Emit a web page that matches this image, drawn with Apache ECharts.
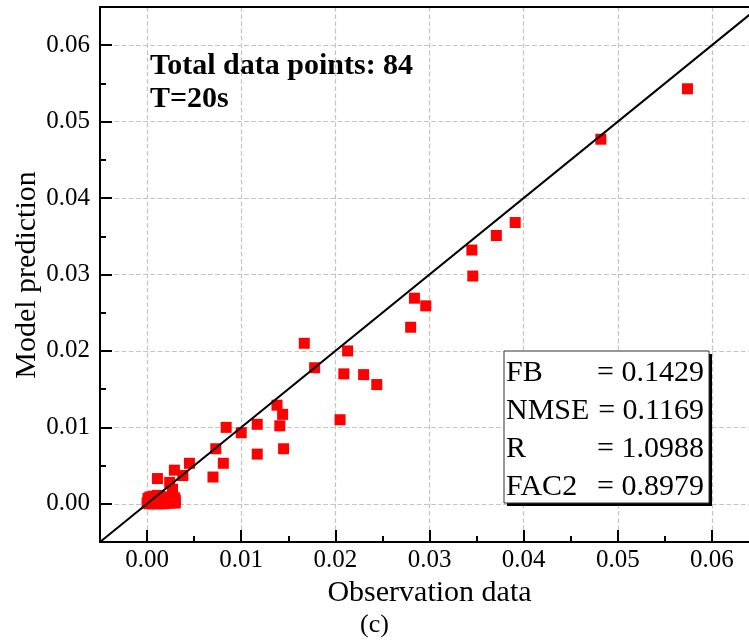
<!DOCTYPE html>
<html>
<head>
<meta charset="utf-8">
<script src="https://cdn.jsdelivr.net/npm/echarts/dist/echarts.min.js"></script>
<style>
html,body{margin:0;padding:0;background:#fff;}
#chart{width:749px;height:644px;}
</style>
</head>
<body>
<div id="chart"></div>
<script>
// Observation data (x) and model prediction (y), 84 points
const obsValues = [
  0.0574,0.0482,0.0391,0.0371,0.0345,0.0346,0.0284,0.0296,0.0280,0.0167,
  0.0213,0.0178,0.0209,0.0230,0.0244,0.0138,0.0144,0.0141,0.0205,0.0117,
  0.0084,0.0100,0.0117,0.0145,0.0073,0.0081,0.0070,0.0045,0.0038,0.0029,
  0.0011,0.0024,0.0027,0.0029,
  0.0000,0.0001,0.0002,0.0002,0.0003,0.0004,0.0004,0.0005,0.0006,0.0006,
  0.0007,0.0008,0.0008,0.0009,0.0010,0.0010,0.0011,0.0012,0.0012,0.0013,
  0.0014,0.0015,0.0015,0.0016,0.0017,0.0018,0.0018,0.0019,0.0020,0.0021,
  0.0022,0.0022,0.0023,0.0024,0.0025,0.0025,0.0026,0.0027,0.0028,0.0029,
  0.0030,0.0030,0.0001,0.0003,0.0005,0.0007,0.0009,0.0011,0.0013,0.0016
];
const predValues = [
  0.0543,0.0477,0.0368,0.0351,0.0332,0.0298,0.0269,0.0259,0.0231,0.0210,
  0.0200,0.0178,0.0170,0.0169,0.0156,0.0129,0.0117,0.0102,0.0110,0.0104,
  0.0100,0.0093,0.0065,0.0072,0.0072,0.0053,0.0035,0.0053,0.0037,0.0044,
  0.0033,0.0028,0.0019,0.0008,
  0.0001,0.0002,0.0000,0.0004,0.0001,0.0003,0.0006,0.0002,0.0000,0.0005,
  0.0003,0.0007,0.0001,0.0004,0.0002,0.0006,0.0000,0.0003,0.0008,0.0005,
  0.0001,0.0004,0.0007,0.0002,0.0005,0.0000,0.0003,0.0006,0.0002,0.0004,
  0.0001,0.0007,0.0003,0.0005,0.0001,0.0008,0.0004,0.0002,0.0006,0.0003,
  0.0005,0.0001,0.0007,0.0009,0.0008,0.0010,0.0009,0.0011,0.0010,0.0009
];
const lineX = [-0.005, 0.065];
const lineY = [-0.005, 0.065];
const axisRange = [-0.005, 0.065];
const statLabels = ['FB', 'NMSE', 'R', 'FAC2'];
const statValues = ['= 0.1429', '= 0.1169', '= 1.0988', '= 0.8979'];
const infoLines = ['Total data points: 84', 'T=20s'];
const yTitle = 'Model prediction';

const FONT = 'Liberation Serif';
const scatterData = obsValues.map((v, i) => [v, predValues[i]]);
const lineData = lineX.map((v, i) => [v, lineY[i]]);
const fmt = v => {
  const k = v / 0.01;
  return Math.abs(k - Math.round(k)) < 1e-6 ? v.toFixed(2) : '';
};

function valueAxis(pos, extra) {
  return Object.assign({
    type: 'value',
    position: pos,
    min: axisRange[0],
    max: axisRange[1],
    splitNumber: 7,
    axisLine: { show: true, onZero: false, lineStyle: { color: '#000', width: 2 } },
    axisTick: { show: true, inside: true, length: 12, lineStyle: { color: '#000', width: 2 } },
    minorTick: { show: true, splitNumber: 2, length: 6, lineStyle: { color: '#000', width: 2 } },
    splitLine: { show: true, lineStyle: { type: 'dashed', color: '#c4c4c4', width: 1.2 } },
    axisLabel: { formatter: fmt, color: '#000', fontFamily: FONT, fontSize: 25 }
  }, extra);
}

const graphics = [];
infoLines.forEach((t, i) => {
  graphics.push({
    type: 'text', left: 150, top: 51 + i * 33,
    style: { text: t, font: 'bold 30px "' + FONT + '"', fill: '#000' }
  });
});
graphics.push({ type: 'rect', shape: { x: 507, y: 354, width: 205, height: 152 }, style: { fill: '#000' }, z: 10 });
graphics.push({ type: 'rect', shape: { x: 504, y: 351, width: 205, height: 152 }, style: { fill: '#fff', stroke: '#333', lineWidth: 1 }, z: 11 });
statLabels.forEach((t, i) => {
  const cy = 373 + i * 38;
  graphics.push({ type: 'text', x: 506, y: cy, z: 12,
    style: { text: t, font: '30px "' + FONT + '"', fill: '#000', verticalAlign: 'middle', align: 'left' } });
  graphics.push({ type: 'text', x: 704, y: cy, z: 12,
    style: { text: statValues[i], font: '30px "' + FONT + '"', fill: '#000', verticalAlign: 'middle', align: 'right' } });
});
graphics.push({ type: 'text', x: 374.5, y: 625, z: 12,
  style: { text: '(c)', font: '26px "' + FONT + '"', fill: '#000', align: 'center', verticalAlign: 'middle' } });
graphics.push({ type: 'text', x: 27, y: 275, rotation: Math.PI / 2, z: 12,
  style: { text: yTitle, font: '30px "' + FONT + '"', fill: '#000', align: 'center', verticalAlign: 'middle' } });

const chart = echarts.init(document.getElementById('chart'), null, { renderer: 'canvas' });
chart.setOption({
  animation: false,
  backgroundColor: '#fff',
  grid: { left: 100, width: 659, top: 7, bottom: 102, containLabel: false, outerBoundsMode: 'none' },
  xAxis: [
    valueAxis('bottom', {
      name: 'Observation data', nameLocation: 'middle', nameGap: 34,
      nameTextStyle: { color: '#000', fontFamily: FONT, fontSize: 30 },
      axisLabel: { formatter: fmt, color: '#000', fontFamily: FONT, fontSize: 25, margin: 6 }
    }),
    valueAxis('top', { axisTick: { show: false }, minorTick: { show: false }, splitLine: { show: false }, axisLabel: { show: false } })
  ],
  yAxis: [
    valueAxis('left', {
      axisLabel: { formatter: fmt, color: '#000', fontFamily: FONT, fontSize: 25, margin: 10 }
    }),
    valueAxis('right', { axisTick: { show: false }, minorTick: { show: false }, splitLine: { show: false }, axisLabel: { show: false } })
  ],
  series: [
    {
      type: 'scatter', xAxisIndex: 0, yAxisIndex: 0,
      symbol: 'rect', symbolSize: 11,
      itemStyle: { color: '#ff0000', opacity: 1 },
      data: scatterData, z: 2
    },
    {
      type: 'line', xAxisIndex: 0, yAxisIndex: 0,
      data: lineData, showSymbol: false, symbol: 'none',
      lineStyle: { color: '#000', width: 2 }, silent: true, z: 3
    }
  ],
  graphic: graphics
});
</script>
</body>
</html>
